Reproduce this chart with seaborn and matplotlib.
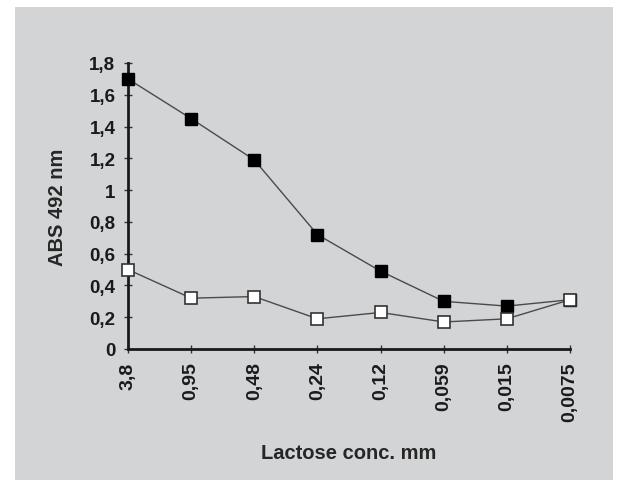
import numpy as np
import pandas as pd
import matplotlib
matplotlib.use('Agg')
import matplotlib.pyplot as plt
from matplotlib.patches import Rectangle
import seaborn as sns

# Data
lactose_conc = ['3,8', '0,95', '0,48', '0,24', '0,12', '0,059', '0,015', '0,0075']
abs_filled = [1.70, 1.45, 1.19, 0.72, 0.49, 0.30, 0.27, 0.31]
abs_open = [0.50, 0.32, 0.33, 0.19, 0.23, 0.17, 0.19, 0.31]
y_ticks = [0, 0.2, 0.4, 0.6, 0.8, 1.0, 1.2, 1.4, 1.6, 1.8]
y_tick_labels = ['0', '0,2', '0,4', '0,6', '0,8', '1', '1,2', '1,4', '1,6', '1,8']

sns.set_style('ticks')
plt.rcParams['font.family'] = ['Liberation Sans', 'DejaVu Sans']
plt.rcParams['font.weight'] = 'bold'
plt.rcParams['text.color'] = '#1a1a1a'
plt.rcParams['xtick.labelcolor'] = '#1a1a1a'
plt.rcParams['ytick.labelcolor'] = '#1a1a1a'

fig = plt.figure(figsize=(6.2, 4.81), dpi=100)
fig.patch.set_facecolor('white')

# gray panel behind the chart
fig.patches.append(Rectangle((15 / 620, 0), (613 - 15) / 620, 1 - 8 / 481,
                             transform=fig.transFigure, facecolor='#d3d4d6',
                             edgecolor='none', zorder=-10))

ax = fig.add_axes([128 / 620, 1 - 350 / 481, (570 - 128) / 620, (350 - 64) / 481])
ax.set_facecolor('none')

df = pd.DataFrame({
    'idx': np.arange(len(lactose_conc)),
    'filled': abs_filled,
    'open': abs_open,
})

sns.lineplot(data=df, x='idx', y='filled', ax=ax, color='#4a4a4a', linewidth=1,
             marker='s', markersize=8, markerfacecolor='black',
             markeredgecolor='black', markeredgewidth=1, zorder=3)
sns.lineplot(data=df, x='idx', y='open', ax=ax, color='#4a4a4a', linewidth=1,
             marker='s', markersize=8, markerfacecolor='white',
             markeredgecolor='#333333', markeredgewidth=1.2, zorder=4)

ax.set_xlim(0, len(lactose_conc) - 1)
ax.set_ylim(0, 1.8)
ax.set_xticks(df['idx'])
ax.set_xticklabels(lactose_conc, rotation=90, fontsize=14, fontweight='bold')
ax.set_yticks(y_ticks)
ax.set_yticklabels(y_tick_labels, fontsize=13.5, fontweight='bold')

for side in ['top', 'right']:
    ax.spines[side].set_visible(False)
for side in ['left', 'bottom']:
    ax.spines[side].set_linewidth(2)
    ax.spines[side].set_color('#1a1a1a')

for line in ax.lines:
    line.set_clip_on(False)

ax.tick_params(axis='both', direction='inout', length=6, width=1, color='#333333')
ax.tick_params(axis='y', pad=6)
ax.tick_params(axis='x', pad=6)

ax.set_xlabel('Lactose conc. mm', fontsize=14.5, fontweight='bold', labelpad=16)
ax.set_ylabel('ABS 492 nm', fontsize=14.5, fontweight='bold', labelpad=16)

fig.savefig('out.png', dpi=100, facecolor=fig.get_facecolor())
